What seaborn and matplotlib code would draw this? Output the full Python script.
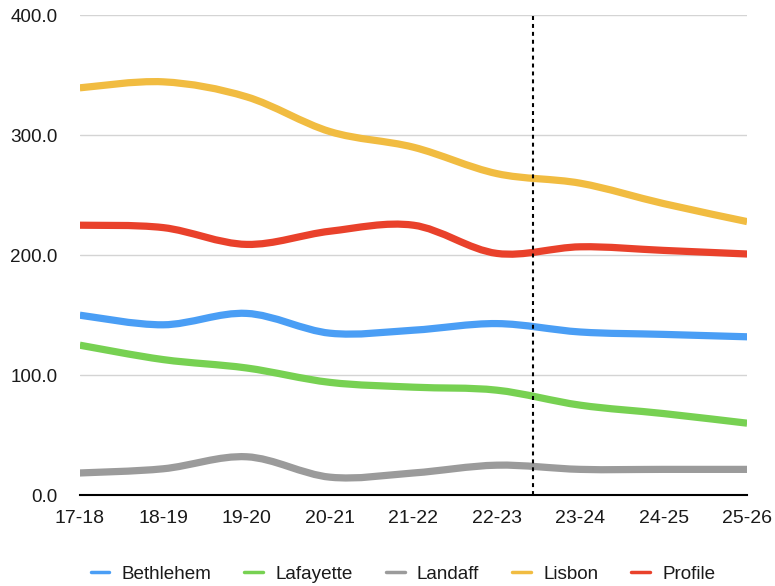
import numpy as np
import pandas as pd
import matplotlib
matplotlib.use("Agg")
import matplotlib.pyplot as plt
import seaborn as sns
from matplotlib.path import Path
from matplotlib.patches import PathPatch

# School years on the x axis
years = ["17-18", "18-19", "19-20", "20-21", "21-22", "22-23", "23-24", "24-25", "25-26"]

# Enrollment per school
bethlehem = [150, 142, 151.5, 135, 137.5, 143, 136, 134, 132]
lafayette = [125, 113, 106, 94, 90, 87.5, 75, 68, 60]
landaff = [18.5, 22, 32, 15, 18.5, 25, 21.5, 21.5, 21.5]
lisbon = [339.5, 344.5, 332, 303, 290, 268, 260, 243, 228]
profile = [225, 223, 209, 220, 225, 201.5, 207, 204, 201]

schools = ["Bethlehem", "Lafayette", "Landaff", "Lisbon", "Profile"]
series = [bethlehem, lafayette, landaff, lisbon, profile]
colors = ["#4A9EF5", "#77D152", "#9B9B9B", "#F1BC41", "#E9412B"]

# Position of the actual/projected divider (between 22-23 and 23-24)
divider_x = 5.43

df = pd.DataFrame(
    [(y, s, v) for s, vals in zip(schools, series) for y, v in zip(years, vals)],
    columns=["year", "school", "enrollment"],
)

sns.set_theme(style="white")
plt.rcParams["font.family"] = ["Liberation Sans", "DejaVu Sans"]

fig = plt.figure(figsize=(7.75, 5.86), dpi=100)
ax = fig.add_axes([0.103, 0.155, 0.861, 0.819])

palette = dict(zip(schools, colors))
sns.lineplot(data=df, x="year", y="enrollment", hue="school", hue_order=schools,
             palette=palette, linewidth=5, sort=False, ax=ax)


def smooth_path(xs, ys):
    """Catmull-Rom style cubic Bezier path through the given points."""
    pts = np.column_stack([xs, ys]).astype(float)
    n = len(pts)
    verts = [pts[0]]
    codes = [Path.MOVETO]
    for i in range(n - 1):
        p0 = pts[i - 1] if i > 0 else pts[i]
        p1 = pts[i]
        p2 = pts[i + 1]
        p3 = pts[i + 2] if i + 2 < n else pts[i + 1]
        c1 = p1 + (p2 - p0) / 6.0
        c2 = p2 - (p3 - p1) / 6.0
        verts += [c1, c2, p2]
        codes += [Path.CURVE4] * 3
    return Path(verts, codes)


# Replace the straight segments with smooth curves through the same points
xpos = np.arange(len(years))
for line, vals, col in zip(ax.lines[:len(schools)], series, colors):
    line.set_visible(False)
    patch = PathPatch(smooth_path(xpos, vals), facecolor="none", edgecolor=col,
                      linewidth=5.2, capstyle="butt", joinstyle="round", zorder=3)
    ax.add_patch(patch)

# Divider between actual and projected years
ax.axvline(divider_x, color="black", linewidth=1.5, linestyle=(0, (1.9, 1.9)), zorder=5)

ax.set_xlim(0, len(years) - 1)
ax.set_ylim(0, 400)
ax.set_yticks([0, 100, 200, 300, 400])
ax.set_yticklabels([f"{v:.1f}" for v in [0, 100, 200, 300, 400]])
ax.set_xlabel("")
ax.set_ylabel("")
ax.grid(axis="y", color="#d4d4d4", linewidth=1)
ax.grid(axis="x", visible=False)
for side in ["left", "right", "top"]:
    ax.spines[side].set_visible(False)
ax.spines["bottom"].set_color("black")
ax.spines["bottom"].set_linewidth(1.5)
ax.spines["bottom"].set_zorder(4)
ax.tick_params(axis="x", length=0, pad=11, labelsize=14, labelcolor="#1a1a1a")
ax.tick_params(axis="y", length=0, pad=16, labelsize=13.6, labelcolor="#1a1a1a")
for lab in ax.get_yticklabels():
    lab.set_verticalalignment("center_baseline")

sns.move_legend(ax, "center", bbox_to_anchor=(0.52, 0.02), bbox_transform=fig.transFigure,
                ncol=5, frameon=False, title=None, fontsize=13.6,
                handlelength=1.0, handletextpad=0.64, columnspacing=1.75)
leg = ax.get_legend()
for h in leg.legend_handles:
    h.set_linewidth(2.5)
for t in leg.get_texts():
    t.set_color("#1a1a1a")

fig.savefig("out.png", dpi=100)
